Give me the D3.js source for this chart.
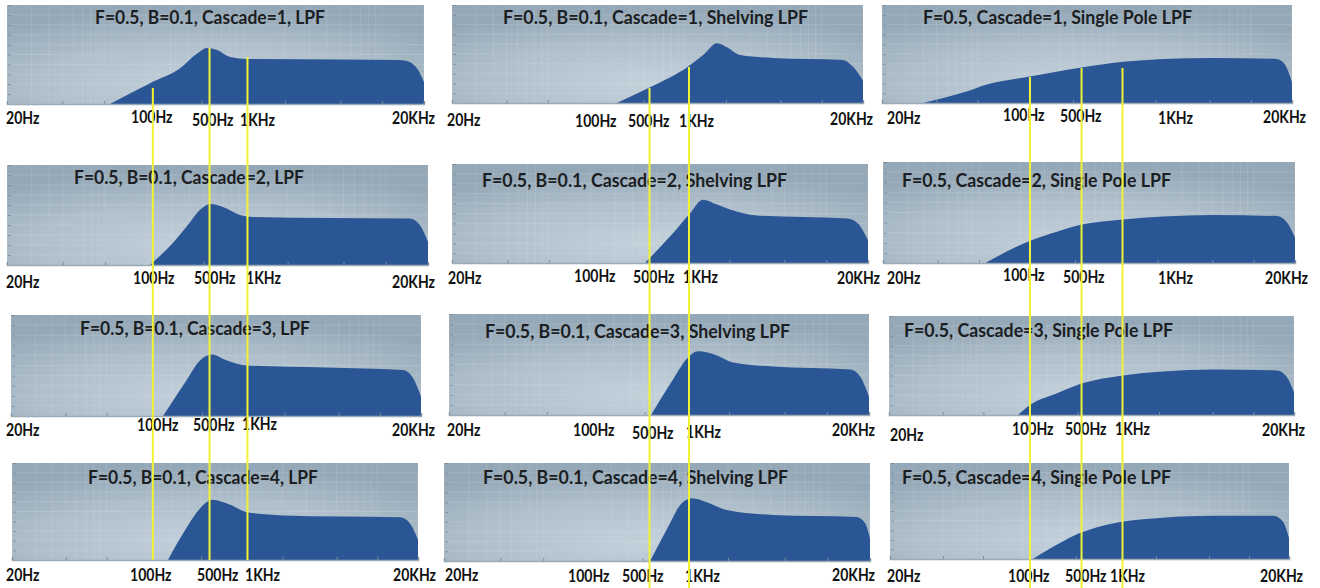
<!DOCTYPE html>
<html><head><meta charset="utf-8">
<script src="https://cdn.jsdelivr.net/npm/d3@7"></script>
<style>
html,body{margin:0;padding:0;background:#ffffff;}
svg{display:block;}
text{font-family:Lato,"Open Sans",sans-serif;font-weight:700;}
</style>
</head><body>
<svg id="c" width="1320" height="588"></svg>
<script>
// ---------------- data ----------------
const filterNames = ["LPF", "Shelving LPF", "Single Pole LPF"];
const cascades = [1, 2, 3, 4];
const tickLabels = ["20Hz", "100Hz", "500Hz", "1KHz", "20KHz"];
const freqDomain = [20, 20000];
const levelDomain = [0, 10];
const axisTicks = [20, 50, 100, 500, 2000, 5000, 10000, 20000];

// [frequency Hz, level]
const lpf1 = [[110,0],[214,2.1],[352,3.6],[467,5.1],[550,5.65],[650,5.45],[805,4.75],[1070,4.55],[5000,4.5],[13400,4.45],[15800,4.25],[18200,3.4],[20000,2.2]];
const lpf2 = [[209,0],[304,2.2],[404,4.3],[473,5.5],[566,6.1],[692,5.8],[912,5.0],[1140,4.8],[4000,4.7],[14900,4.65],[17500,4.0],[20000,2.3]];
const lpf3 = [[259,0],[387,3.6],[483,5.5],[590,6.1],[762,5.5],[1070,5.0],[4000,4.8],[14800,4.55],[17400,3.8],[20000,1.9]];
const lpf4 = [[284,0],[393,3.4],[490,5.3],[603,6.2],[817,5.7],[1107,4.9],[2000,4.6],[14800,4.4],[17400,3.8],[20000,2.1]];

const shelf1 = [[319,0],[558,1.6],[1054,3.7],[1362,4.9],[1722,6.1],[2032,5.7],[2536,4.9],[4400,4.6],[14300,4.4],[16900,3.7],[20000,2.3]];
const shelf2 = [[493,0],[784,3.0],[1040,5.0],[1288,6.4],[1630,5.9],[2020,5.4],[3160,4.8],[14200,4.5],[16900,4.0],[20000,2.3]];
const shelf3 = [[555,0],[794,3.5],[1004,5.6],[1202,6.3],[1640,5.9],[2134,5.2],[4112,4.8],[14700,4.5],[17300,3.8],[20000,1.8]];
const shelf4 = [[566,0],[784,3.9],[918,5.7],[1114,6.4],[1420,6.0],[1964,5.2],[4140,4.7],[16100,4.5],[18400,3.9],[20000,2.3]];

const sp1 = [[40,0],[84,1.2],[117,1.9],[242,2.7],[562,3.6],[1161,4.2],[2270,4.5],[5270,4.6],[15500,4.5],[17800,3.9],[20000,2.1]];
const sp2 = [[111,0],[236,2.2],[369,3.1],[562,3.8],[1122,4.3],[2190,4.6],[5060,4.75],[14800,4.65],[17500,4.0],[20000,2.5]];
const sp3 = [[181,0],[221,1.0],[352,2.2],[540,3.2],[1084,4.0],[2148,4.4],[5020,4.6],[15000,4.5],[17800,3.8],[20000,2.3]];
const sp4 = [[237,0],[361,1.5],[536,2.7],[721,3.3],[1130,3.9],[2254,4.3],[5380,4.5],[15200,4.5],[18000,3.9],[20000,2.2]];

// hand-drawn marker lines (frequency on the top panel of each column)
const markerFreqs = [[224, 573, 1074], [553, 1074], [242, 577, 1150]];

// ---------------- layout ----------------
const panelBox = [
  [[7,424,5,104],[7,428,165,265],[11,421,315,416],[12,418,463,560]],
  [[452,863,5,103],[452,868,164,263],[449,869,314,415],[444,870,463,561]],
  [[882,1292,5,103],[883,1295,162,263],[889,1294,316,415],[890,1289,463,559]]
];
const titlePos = [
  [[95,17],[74,177],[80,328],[88,477]],
  [[503,17],[482,180],[485,331],[483,477]],
  [[923,17],[902,180],[904,330],[902,477]]
];
const titleWidth = [230, 305, 269];
const labelPos = [
  [[[6,118],[131,117],[192,120],[240,120],[392,118]],
   [[6,282],[133,278],[194,278],[246,278],[392,282]],
   [[6,430],[137,425],[193,425],[242,424],[392,430]],
   [[6,575],[130,575],[197,575],[245,575],[393,575]]],
  [[[447,120],[575,121],[628,121],[679,121],[830,119]],
   [[448,278],[574,276],[633,277],[683,277],[837,278]],
   [[447,430],[573,430],[632,433],[686,432],[832,430]],
   [[445,575],[568,576],[622,576],[685,576],[832,575]]],
  [[[887,118],[1003,115],[1060,116],[1158,118],[1263,117]],
   [[887,278],[1003,275],[1063,277],[1158,278],[1265,278]],
   [[890,435],[1012,429],[1065,429],[1115,429],[1262,430]],
   [[887,576],[1008,576],[1065,576],[1110,576],[1260,576]]]
];
const markerTop = [[88,48,57],[88,67],[77,68,68]];
const markerBottom = [560, 588, 588];

const series = [[lpf1,lpf2,lpf3,lpf4],[shelf1,shelf2,shelf3,shelf4],[sp1,sp2,sp3,sp4]];

// ---------------- drawing ----------------
const svg = d3.select("#c");
const defs = svg.append("defs");
const grad = defs.append("radialGradient").attr("id","bg")
  .attr("cx","0.48").attr("cy","0.8").attr("r","0.75").attr("fx","0.48").attr("fy","0.8");
grad.append("stop").attr("offset","0").attr("stop-color","#c3d1db");
grad.append("stop").attr("offset","0.55").attr("stop-color","#afbfcb");
grad.append("stop").attr("offset","1").attr("stop-color","#95a8b7");

const fillColor = "#2b5695";
const labelSize = 16.5, labelScale = 0.85, titleSize = 19;

function titleText(c, cas) {
  return c === 2 ? `F=0.5, Cascade=${cas}, ${filterNames[c]}`
                 : `F=0.5, B=0.1, Cascade=${cas}, ${filterNames[c]}`;
}

const scalesTop = [];
filterNames.forEach((name, c) => {
  cascades.forEach((cas, r) => {
    const [x0, x1, y0, y1] = panelBox[c][r];
    const x = d3.scaleLog().domain(freqDomain).range([x0, x1]);
    const y = d3.scaleLinear().domain(levelDomain).range([y1, y0]);
    if (r === 0) scalesTop[c] = x;
    const g = svg.append("g");
    const cid = `clip${c}${r}`;
    defs.append("clipPath").attr("id", cid).append("rect")
      .attr("x", x0).attr("y", y0).attr("width", x1 - x0).attr("height", y1 - y0);

    g.append("rect").attr("x", x0).attr("y", y0).attr("width", x1 - x0).attr("height", y1 - y0)
      .attr("fill", "url(#bg)");

    // faint grid
    const grid = g.append("g").attr("clip-path", `url(#${cid})`);
    grid.selectAll("line.v").data(x.ticks(40)).join("line")
      .attr("x1", d => x(d)).attr("x2", d => x(d)).attr("y1", y0).attr("y2", y1)
      .attr("stroke", "#ffffff").attr("stroke-opacity", 0.1).attr("stroke-width", 1);
    grid.selectAll("line.h").data(d3.range(1, 10)).join("line")
      .attr("x1", x0).attr("x2", x1).attr("y1", d => y(d)).attr("y2", d => y(d))
      .attr("stroke", "#ffffff").attr("stroke-opacity", 0.13).attr("stroke-width", 1);

    // left mini axis
    const la = g.append("g").attr("transform", `translate(${x0 + 1},0)`)
      .call(d3.axisRight(y).tickValues(d3.range(0, 11)).tickSize(3).tickFormat(""));
    la.select(".domain").remove();
    la.selectAll("line").attr("stroke", "#6f8191").attr("stroke-opacity", 0.7);

    // area
    const area = d3.area().x(d => x(d[0])).y0(y(0)).y1(d => y(d[1])).curve(d3.curveMonotoneX);
    g.append("path").datum(series[c][r]).attr("d", area)
      .attr("fill", fillColor).attr("clip-path", `url(#${cid})`);

    // bottom axis strip
    const ba = g.append("g").attr("transform", `translate(0,${y1})`)
      .call(d3.axisTop(x).tickValues(axisTicks).tickSize(3).tickFormat(""));
    ba.select(".domain").attr("stroke", "#9aabb8").attr("stroke-width", 1.5);
    ba.selectAll(".tick line").attr("stroke", "#7b8d9c");

    // title
    const [tx, ty] = titlePos[c][r];
    g.append("text").attr("x", tx).attr("y", ty + titleSize * 0.36)
      .attr("font-size", titleSize).attr("fill", "#1b1e22")
      .attr("textLength", titleWidth[c]).attr("lengthAdjust", "spacingAndGlyphs")
      .text(titleText(c, cas));

    // frequency labels
    tickLabels.forEach((lab, i) => {
      const [lx, ly] = labelPos[c][r][i];
      const t = svg.append("text").attr("x", lx).attr("y", ly + labelSize * 0.36)
        .attr("font-size", labelSize).attr("fill", "#111111").text(lab);
      const w = t.node().getComputedTextLength();
      t.attr("textLength", w * labelScale).attr("lengthAdjust", "spacingAndGlyphs");
    });
  });
});

// yellow marker lines across each column
markerFreqs.forEach((fs, c) => {
  svg.append("g").selectAll("line").data(fs).join("line")
    .attr("x1", d => scalesTop[c](d)).attr("x2", d => scalesTop[c](d))
    .attr("y1", (d, i) => markerTop[c][i]).attr("y2", markerBottom[c])
    .attr("stroke", "#f2f235").attr("stroke-width", 2);
});
</script>
</body></html>
